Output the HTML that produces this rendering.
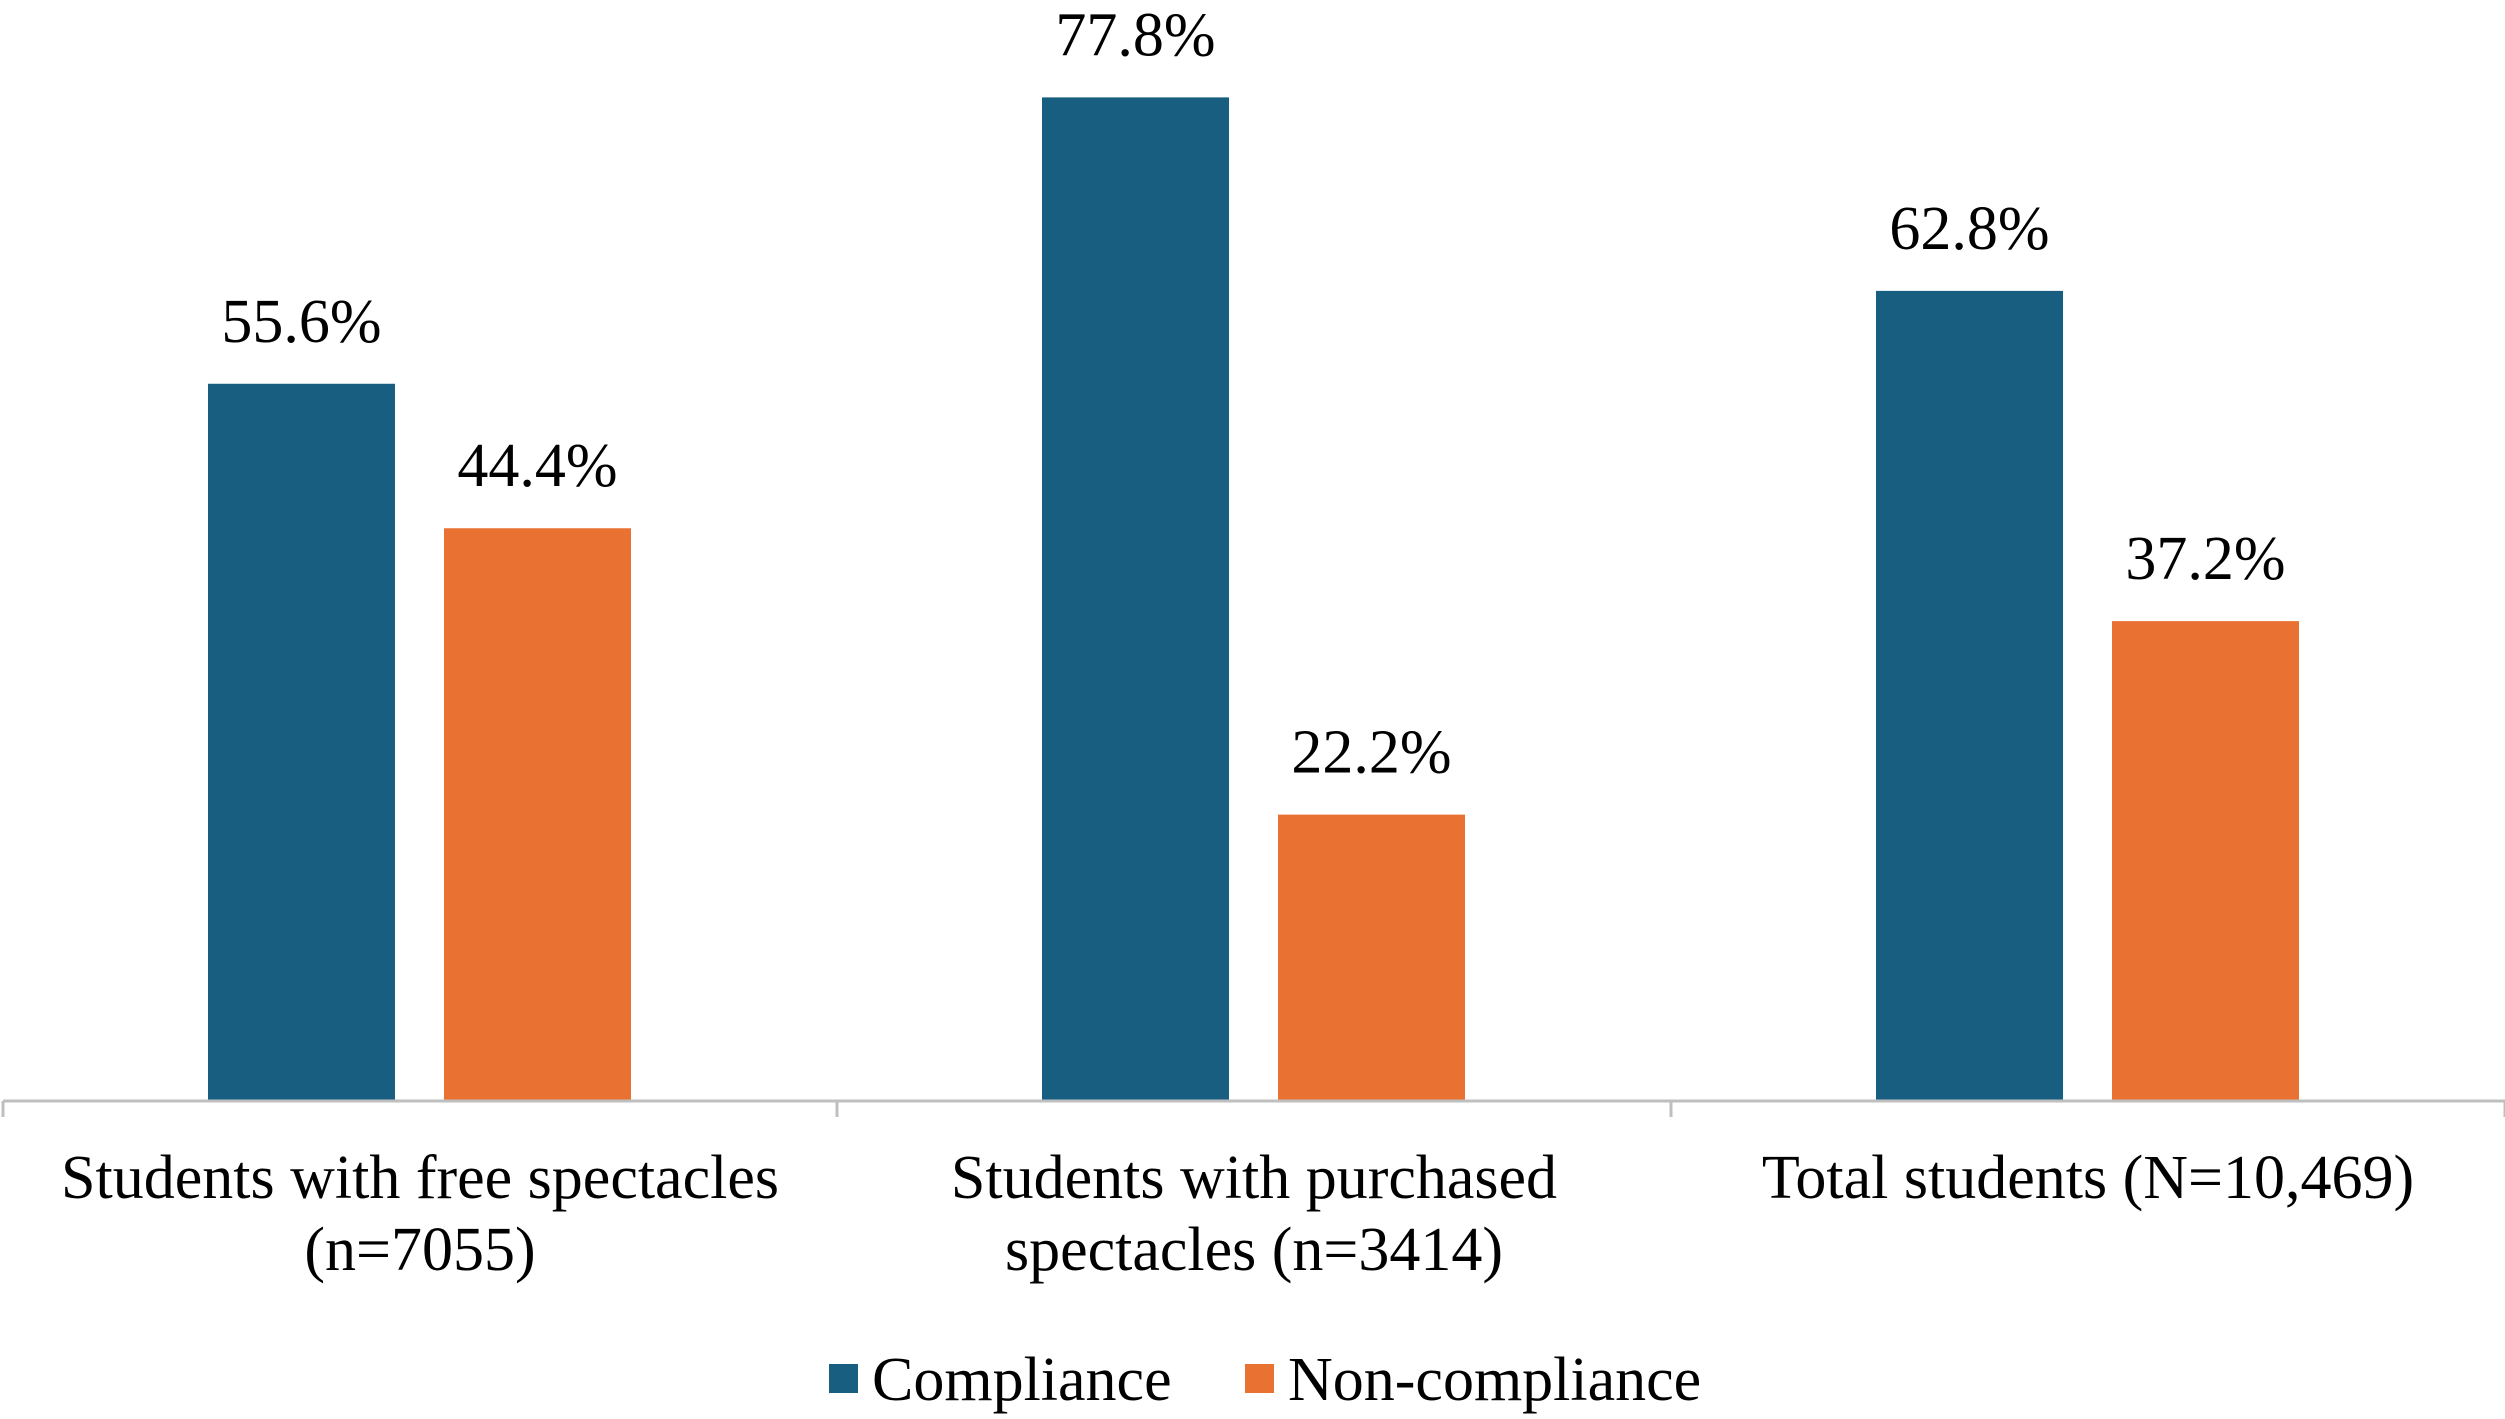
<!DOCTYPE html>
<html><head><meta charset="utf-8"><style>
html,body{margin:0;padding:0;background:#fff;}
svg{display:block;font-family:"Liberation Serif",serif;}
</style></head><body>
<svg id="chart" width="2505" height="1419" viewBox="0 0 2505 1419">
<g id="bars"></g>
<g id="axis"></g>
<g id="legend">
  <rect x="829" y="1364" width="29" height="29" fill="#175E80"/>
  <text x="872" y="1400" font-size="62" fill="#000">Compliance</text>
  <rect x="1245" y="1364" width="29" height="29" fill="#E97132"/>
  <text x="1288" y="1400" font-size="62" fill="#000">Non-compliance</text>
</g>
</svg>
<script>
const categories = [["Students with free spectacles","(n=7055)"],["Students with purchased","spectacles (n=3414)"],["Total students (N=10,469)"]];
const compliance = [55.6, 77.8, 62.8];
const nonCompliance = [44.4, 22.2, 37.2];
const seriesColors = ["#175E80", "#E97132"];

const NS = "http://www.w3.org/2000/svg";
const baseY = 1101, pxPerPct = 12.9, catStart = 3, catW = 834, barW = 187;
const yScale = v => baseY - v * pxPerPct;
const xCat = i => catStart + i * catW;
const barsG = document.getElementById('bars');
const axisG = document.getElementById('axis');
function mk(tag, attrs, parent){const e=document.createElementNS(NS,tag);for(const k in attrs)e.setAttribute(k,attrs[k]);parent.appendChild(e);return e;}

[compliance, nonCompliance].forEach((series, s) => {
  series.forEach((v, i) => {
    const x = xCat(i) + (s === 0 ? 205 : 441);
    const r = mk('rect', {x: x, y: yScale(v), width: barW, height: baseY - yScale(v), fill: seriesColors[s]}, barsG);
    
    
    const t = mk('text', {x: x + barW / 2, y: yScale(v) - 42, 'text-anchor': 'middle', 'font-size': 62, fill: '#000'}, barsG);
    t.textContent = v.toFixed(1) + '%';
    
    
  });
});

const axisLine = mk('line', {x1: catStart, y1: baseY, x2: catStart + catW * 3, y2: baseY, stroke: '#BFBFBF', 'stroke-width': 3}, axisG);


for (let i = 0; i <= categories.length; i++) {
  const tk = mk('line', {x1: xCat(i), y1: baseY, x2: xCat(i), y2: baseY + 16, stroke: '#BFBFBF', 'stroke-width': 3}, axisG);
  
  
}
categories.forEach((lines, i) => {
  lines.forEach((ln, j) => {
    const t = mk('text', {x: xCat(i) + catW / 2, y: 1198 + j * 72, 'text-anchor': 'middle', 'font-size': 62, fill: '#000'}, axisG);
    t.textContent = ln;
    
    
  });
});
</script>
</body></html>
